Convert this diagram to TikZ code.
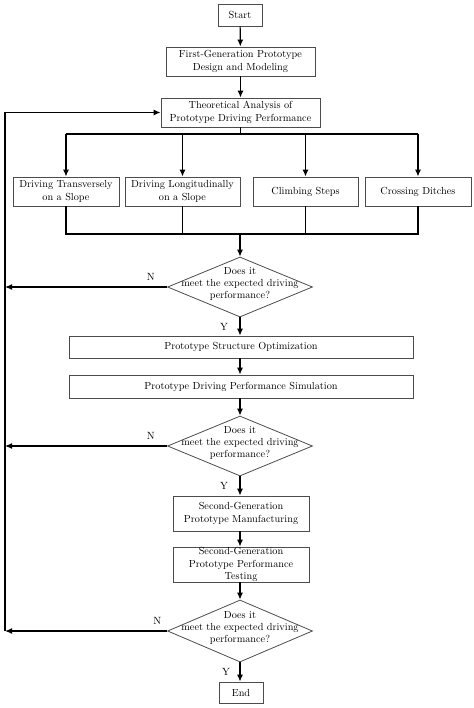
\documentclass[tikz,border=0pt]{standalone}
\usetikzlibrary{shapes.geometric,arrows.meta}
\begin{document}
\begin{tikzpicture}[>={Latex[length=7bp,width=6bp]},x=1bp,y=-1bp,line width=1.2bp,
    box/.style={draw=black!70,line width=0.8bp,inner sep=0pt,align=center,text=black,
      font=\fontsize{10.3}{12.5}\selectfont},
    dec/.style={draw=black!70,line width=0.8bp,diamond,inner sep=0pt,minimum width=145bp,minimum height=60bp},
    dectext/.style={align=center,inner sep=0pt,text=black,font=\fontsize{10.3}{12.5}\selectfont},
    yn/.style={font=\fontsize{10.5}{12}\selectfont,text=black}]
  \useasboundingbox (0,0) rectangle (474,708);
  \node[box,minimum width=44bp,minimum height=22bp] (start) at (240,15) {Start};
  \node[box,minimum width=149bp,minimum height=29bp] (gen1) at (240.5,61.5) {First-Generation Prototype\\Design and Modeling};
  \node[box,minimum width=159bp,minimum height=29bp] (theo) at (240.5,112.5) {Theoretical Analysis of\\Prototype Driving Performance};
  \node[box,minimum width=106bp,minimum height=29bp] (trans) at (66,191.5) {Driving Transversely\\on a Slope};
  \node[box,minimum width=115bp,minimum height=29bp] (longi) at (182.5,191.5) {Driving Longitudinally\\on a Slope};
  \node[box,minimum width=105bp,minimum height=29bp] (climb) at (305.5,191.5) {Climbing Steps};
  \node[box,minimum width=106bp,minimum height=29bp] (ditch) at (418,191.5) {Crossing Ditches};
  \node[dec,minimum height=60bp] (dec1) at (240,287) {};
  \node[dectext] (ask1) at ([yshift=3bp]dec1) {Does it\\meet the expected driving\\performance?};
  \node[box,minimum width=344bp,minimum height=22bp] (opt) at (241,347) {Prototype Structure Optimization};
  \node[box,minimum width=344bp,minimum height=23bp] (sim) at (241,386.5) {Prototype Driving Performance Simulation};
  \node[dec] (dec2) at (240,446) {};
  \node[dectext] (ask2) at ([yshift=3bp]dec2) {Does it\\meet the expected driving\\performance?};
  \node[box,minimum width=136bp,minimum height=35bp] (manu) at (241,513.5) {Second-Generation\\Prototype Manufacturing};
  \node[box,minimum width=136bp,minimum height=35bp] (test) at (241,564.5) {Second-Generation\\Prototype Performance\\Testing};
  \node[dec,minimum height=62bp] (dec3) at (240,631) {};
  \node[dectext] (ask3) at ([yshift=3bp]dec3) {Does it\\meet the expected driving\\performance?};
  \node[box,minimum width=44bp,minimum height=21bp] (end) at (241,692.5) {End};
  \coordinate (split) at (240.5,134);
  \coordinate (merge) at (240,234);
  \coordinate (back) at (5,112.5);
  \draw[->] (start) -- (gen1);
  \draw[->] (gen1) -- (theo);
  \draw (theo.south) -- (split);
  \draw (trans.north |- split) -- (ditch.north |- split);
  \draw[->] (trans.north |- split) -- (trans.north);
  \draw[->] (longi.north |- split) -- (longi.north);
  \draw[->] (climb.north |- split) -- (climb.north);
  \draw[->] (ditch.north |- split) -- (ditch.north);
  \draw (trans.south) |- (merge) -| (ditch.south);
  \draw (longi.south) -- (longi.south |- merge);
  \draw (climb.south) -- (climb.south |- merge);
  \draw[->] (merge) -- (dec1.north);
  \draw[->] (dec1.south) -- node[yn,left,xshift=-8bp] (y1) {Y} (dec1.south |- opt.north);
  \draw[->] (opt.south -| dec1) -- (sim.north -| dec1);
  \draw[->] (sim.south -| dec2) -- (dec2.north);
  \draw[->] (dec2.south) -- node[yn,left,xshift=-8bp] (y2) {Y} (dec2.south |- manu.north);
  \draw[->] (manu.south -| dec2) -- (test.north -| dec2);
  \draw[->] (test.south -| dec3) -- (dec3.north);
  \draw[->] (dec3.south) -- node[yn,left,xshift=-6bp] (y3) {Y} (dec3.south |- end.north);
  \draw[->] (dec1.west) -- node[yn,above,pos=0.1,yshift=3bp] (n1) {N} (dec1.west -| back);
  \draw[->] (dec2.west) -- node[yn,above,pos=0.1,yshift=3bp] (n2) {N} (dec2.west -| back);
  \draw[->] (dec3.west) -- node[yn,above,pos=0.06,yshift=3bp] (n3) {N} (dec3.west -| back);
  \draw[->] (dec3.west -| back) -- (back) -- (theo.west);
\end{tikzpicture}
\end{document}
